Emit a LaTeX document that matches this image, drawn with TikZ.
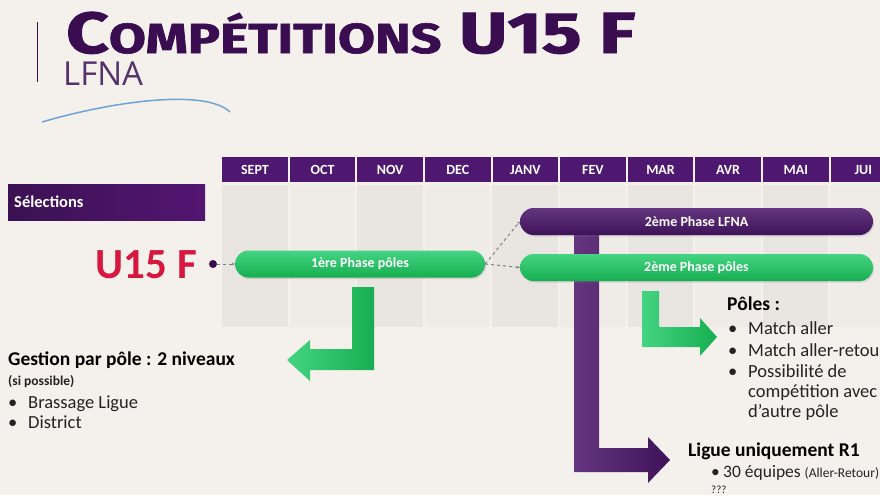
\documentclass[tikz,border=0pt]{standalone}
\usepackage{fontspec}
\setmainfont{Carlito}
\newfontfamily\titlefont{Fira Sans}[BoldFeatures={FakeBold=1.5}]
\newfontfamily\lfnafont{Open Sans}
\usetikzlibrary{arrows.meta,shadows}

\definecolor{bgbeige}{HTML}{F4F1ED}
\definecolor{colA}{HTML}{E9E5E0}
\definecolor{colB}{HTML}{EFECE8}
\definecolor{hdrpurple}{HTML}{4E1870}
\definecolor{titlepurple}{HTML}{3A0D50}
\definecolor{u15red}{HTML}{D8173F}
\definecolor{pillgreen}{HTML}{16AE50}
\definecolor{pillgreenlt}{HTML}{45D482}
\definecolor{pillpurple}{HTML}{3E1258}
\definecolor{pillpurplelt}{HTML}{65367F}
\definecolor{swooshblue}{HTML}{6FA3D3}
\definecolor{txtdark}{HTML}{232323}

\tikzset{
  month/.style={fill=hdrpurple, text=white, minimum width=65.5pt, minimum height=25pt,
    inner sep=0pt, font=\bfseries\fontsize{14}{16}\selectfont},
  greenpill/.style={rounded corners=13.5pt, top color=pillgreenlt, bottom color=pillgreen,
    minimum height=27pt, inner sep=0pt, text=white, font=\bfseries\fontsize{14}{16}\selectfont,
    drop shadow={opacity=0.25, shadow xshift=1pt, shadow yshift=-1.5pt}},
  purplepill/.style={greenpill, top color=pillpurplelt, bottom color=pillpurple},
  conn/.style={dashed, gray, line width=1pt, -{Stealth[length=3pt,width=3pt]}},
  body/.style={anchor=base west, inner sep=0pt, text=txtdark, font=\fontsize{18.5}{21}\selectfont},
  head/.style={body, text=black, font=\bfseries\fontsize{19.5}{22}\selectfont},
  small/.style={body, font=\fontsize{11}{13}\selectfont},
}

\begin{document}
\begin{tikzpicture}[x=1pt,y=-1pt]
\useasboundingbox (0,0) rectangle (880,495);
\fill[bgbeige] (0,0) rectangle (880,495);

% Title
\draw[titlepurple, line width=1pt] (37,22) -- (37,82);
\node[anchor=base west, inner sep=0pt, text depth=0pt, text=titlepurple] (title) at (66,53)
  {\scalebox{1.28}[1]{\titlefont\bfseries{\fontsize{58}{58}\selectfont C}{\fontsize{42}{42}\selectfont OMPÉTITIONS}{\fontsize{58}{58}\selectfont\ U15 F}}};
\node[anchor=base west, inner sep=0pt, text height=23pt, text=titlepurple!85] (lfna) at (63,85)
  {\lfnafont\fontsize{33}{33}\selectfont LFNA};
\draw[swooshblue, line width=1.5pt] (42,122) .. controls (110,102) and (205,88) .. (230,112);

% Months and columns
\foreach \m [count=\i from 0] in {SEPT,OCT,NOV,DEC,JANV,FEV,MAR,AVR,MAI,JUI} {
  \pgfmathparse{mod(\i,2)==0 ? "colA" : "colB"}
  \fill[\pgfmathresult] ({222+67.6*\i},185) rectangle +(65.5,142);
  \node[month, anchor=north west] (m\i) at ({222+67.6*\i},157) {\m};
}

% Selections
\node[anchor=north west, left color=pillpurple!95!black, right color=hdrpurple!90!violet,
  minimum height=36pt, text width=185pt, inner xsep=6pt, text=white,
  font=\bfseries\fontsize{16.5}{18}\selectfont] (sel) at (8,184) {Sélections};
\node[anchor=base east, inner sep=0pt, text=u15red, font=\bfseries\fontsize{43}{43}\selectfont] (u15) at (197,278) {U15 F};
\node[circle, fill=titlepurple, inner sep=0pt, minimum size=8pt] (dot) at (213,264) {};

% Purple arrow (behind)
\shade[left color=pillpurplelt, right color=pillpurple]
  (574,235) -- (599,235) -- (599,448) -- (648,448) -- (648,437) -- (670,460)
  -- (648,483) -- (648,472) -- (574,472) -- cycle;

% Phases
\node[greenpill, minimum width=250pt] (ph1) at (360,264) {1ère Phase pôles};
\node[purplepill, minimum width=353pt] (ph2l) at (696.5,221.5) {2ème Phase LFNA};
\node[greenpill, minimum width=353pt] (ph2p) at (696.5,267.5) {2ème Phase pôles};

\draw[conn] (dot) -- (ph1);
\draw[conn] (ph1.east) -- (ph2l.west);
\draw[conn] (ph1.east) -- (ph2p.west);

% Green arrows
\shade[left color=pillgreenlt, right color=pillgreen]
  (352,287) -- (374,287) -- (374,370) -- (310,370) -- (310,381) -- (287,360)
  -- (310,340) -- (310,349) -- (352,349) -- cycle;
\shade[left color=pillgreenlt, right color=pillgreen]
  (642,291) -- (659,291) -- (659,327) -- (700,327) -- (700,318) -- (717,337)
  -- (700,356) -- (700,347) -- (642,347) -- cycle;

% Left text
\node[head] (gest) at (8,365) {Gestion par pôle : 2 niveaux};
\node[small, font=\bfseries\fontsize{13.5}{15}\selectfont] (possible) at (8,385) {(si possible)};
\node[body] (b1) at (8,408) {•};
\node[body] (brassage) at (28,408) {Brassage Ligue};
\node[body] (b2) at (8,428) {•};
\node[body] (district) at (28,428) {District};

% Poles text
\node[head] (poles) at (727,310) {Pôles :};
\node[body] (b3) at (728,334) {•};
\node[body] (aller) at (748,334) {Match aller};
\node[body] (b4) at (728,356) {•};
\node[body] (retour) at (748,356) {Match aller-retour};
\node[body] (b5) at (728,377) {•};
\node[body] (possib) at (748,377) {Possibilité de};
\node[body] (compet) at (748,397) {compétition avec};
\node[body] (autre) at (748,417) {d'autre pôle};

% Ligue text
\node[head] (ligue) at (688,456) {Ligue uniquement R1};
\node[body, font=\fontsize{17.5}{20}\selectfont] (b6) at (711,477) {•};
\node[body, font=\fontsize{17.5}{20}\selectfont] (equipes) at (723,477) {30 équipes {\fontsize{13.5}{15}\selectfont(Aller-Retour)}};
\node[small] (qqq) at (711,493) {???};
\end{tikzpicture}
\end{document}
